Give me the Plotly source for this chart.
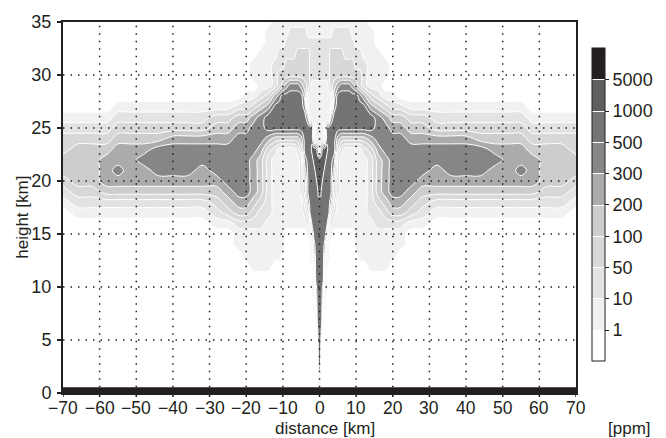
import plotly.graph_objects as go

# Distance from the plume axis (km) for the right half of the section;
# the section is mirrored about x = 0.
half_x = [0, 0.3, 0.6, 1, 1.5, 2, 2.5, 3, 4, 5, 6, 7, 8, 9, 10, 11, 12, 14, 16, 18,
          20, 22, 25, 28, 32, 36, 40, 44, 48, 52, 55, 58, 62, 66, 70]

# Concentration class at each grid node, one string per height from 35 km down to 0 km.
# Class 0 = below 1 ppm, 1 = 1-10, 2 = 10-50, 3 = 50-100, 4 = 100-200, 5 = 200-300,
# 6 = 300-500, 7 = 500-1000, 8 = 1000-5000, 9 = above 5000 ppm.
class_rows = [
    "11111111111111111000000000000000000",  # 35
    "11111111222221111100000000000000000",  # 34
    "22222222222222111100000000000000000",  # 33
    "22222223333222221110000000000000000",  # 32
    "22222223333333222111000000000000000",  # 31
    "22222223333333332111000000000000000",  # 30
    "11111123456665432110000000000000000",  # 29
    "11111111577777765321100000000000000",  # 28
    "11111111677777777543221111111110000",  # 27
    "11111115777777777765443322222221111",  # 26
    "11113777777777777766554433333332222",  # 25
    "11114777754444444566665555544443333",  # 24
    "36788877742111112356666666665554443",  # 23
    "88888777621111111245666666666555444",  # 22
    "88887777521111111245666656665565444",  # 21
    "88877777421111111245666555555555443",  # 20
    "88777777421111111245665444444444332",  # 19
    "77777776311111111234554322222222221",  # 18
    "77777774211111111223443211111111110",  # 17
    "77777742111111111122221100000000000",  # 16
    "77777521000000111111110000000000000",  # 15
    "77776310000000111111110000000000000",  # 14
    "77775210000000011111100000000000000",  # 13
    "77774100000000000111000000000000000",  # 12
    "77773100000000000000000000000000000",  # 11
    "77762100000000000000000000000000000",  # 10
    "77751000000000000000000000000000000",  # 9
    "77741000000000000000000000000000000",  # 8
    "77720000000000000000000000000000000",  # 7
    "77610000000000000000000000000000000",  # 6
    "77500000000000000000000000000000000",  # 5
    "77300000000000000000000000000000000",  # 4
    "77100000000000000000000000000000000",  # 3
    "64000000000000000000000000000000000",  # 2
    "42000000000000000000000000000000000",  # 1
    "20000000000000000000000000000000000",  # 0
]
heights = list(range(35, -1, -1))

level_labels = ["1", "10", "50", "100", "200", "300", "500", "1000", "5000"]
band_colors = ["#ffffff", "#f1f1f1", "#e3e3e3", "#d8d8d8", "#cdcdcd",
               "#ababab", "#868686", "#747474", "#5f5f5f", "#231f20"]

x_ticks = list(range(-70, 71, 10))
x_tick_labels = [str(v).replace("-", "\u2212") for v in x_ticks]
y_ticks = list(range(0, 36, 5))
x_range = [-70, 70]
y_range = [0, 35]
ground_top = 0.55  # km, surface layer drawn in black

for r in class_rows:
    if len(r) != len(half_x):
        raise ValueError("row length mismatch")

x_full = [-v for v in half_x[::-1][:-1]] + half_x
z_full = []
for row in class_rows:
    full = row[::-1][:-1] + row
    z_full.append([int(c) + 0.5 for c in full])

n = len(band_colors)
colorscale = []
for i, c in enumerate(band_colors):
    colorscale.append([i / n, c])
    colorscale.append([(i + 1) / n, c])

FONT = "Liberation Sans, Arial, sans-serif"
INK = "#231f20"
FS = 18

# page geometry (pixels)
W, H = 666, 438
M_L, M_R, M_T, M_B = 63, 89, 18, 45
plot_w = W - M_L - M_R
plot_h = H - M_T - M_B
tick_px = 4

# colour bar geometry
cb_x = 1.031
cb_y = 0.085
cb_len = 313
cb_thick = 13

fig = go.Figure()
fig.add_trace(go.Contour(
    x=x_full, y=heights, z=z_full,
    zmin=0, zmax=n, colorscale=colorscale,
    contours=dict(start=1, end=len(level_labels), size=1, coloring="fill"),
    line=dict(color="white", width=1, smoothing=1),
    hoverinfo="skip",
    colorbar=dict(
        x=cb_x, xanchor="left", xpad=0,
        y=cb_y, yanchor="bottom", ypad=0,
        len=cb_len, lenmode="pixels", thickness=cb_thick,
        outlinecolor=INK, outlinewidth=1,
        tickvals=list(range(1, len(level_labels) + 1)), ticktext=level_labels,
        ticks="outside", ticklen=4, tickcolor=INK,
        tickfont=dict(family=FONT, size=FS, color=INK),
    ),
))

shapes = []
# ground layer
shapes.append(dict(type="rect", xref="x", yref="y", x0=x_range[0], x1=x_range[1],
                   y0=y_range[0], y1=ground_top, fillcolor=INK,
                   line=dict(width=0), layer="above"))
grid_line = dict(color=INK, width=1.5, dash="1.5px,6px")
for xv in x_ticks[1:-1]:
    shapes.append(dict(type="line", xref="x", yref="y", x0=xv, x1=xv,
                       y0=ground_top, y1=y_range[1], line=grid_line, layer="above"))
for yv in y_ticks[1:-1]:
    shapes.append(dict(type="line", xref="x", yref="y", x0=x_range[0], x1=x_range[1],
                       y0=yv, y1=yv, line=grid_line, layer="above"))
# short tick marks below the distance axis
for xv in x_ticks:
    shapes.append(dict(type="line", xref="x", yref="paper", x0=xv, x1=xv,
                       y0=0, y1=-tick_px / plot_h,
                       line=dict(color=INK, width=1.5), layer="above"))

# thin dark separators between the colour bar classes
band_h = cb_len / n / plot_h
for k in range(1, n):
    yk = cb_y + k * band_h
    shapes.append(dict(type="line", xref="paper", yref="paper",
                       x0=cb_x, x1=cb_x + cb_thick / plot_w, y0=yk, y1=yk,
                       line=dict(color="#505050", width=1), layer="above"))

annotations = []
# distance tick labels, set close under the axis
for xv, lab in zip(x_ticks, x_tick_labels):
    annotations.append(dict(text=lab, xref="x", yref="paper", x=xv, y=-15 / plot_h,
                            xanchor="center", yanchor="middle", showarrow=False,
                            font=dict(family=FONT, size=17.5, color=INK)))
annotations += [
    dict(text="distance [km]", xref="paper", yref="paper", x=0.51, y=-35.5 / plot_h,
         xanchor="center", yanchor="middle", showarrow=False,
         font=dict(family=FONT, size=17, color=INK)),
    dict(text="height [km]", xref="paper", yref="paper", x=-0.078, y=0.475,
         textangle=-90, xanchor="center", yanchor="middle", showarrow=False,
         font=dict(family=FONT, size=17, color=INK)),
    dict(text="[ppm]", xref="paper", yref="paper", x=1.104, y=-35.5 / plot_h,
         xanchor="center", yanchor="middle", showarrow=False,
         font=dict(family=FONT, size=17, color=INK)),
]

axis_common = dict(showline=True, linewidth=2, linecolor=INK, mirror=True,
                   tickwidth=1.5, tickcolor=INK,
                   showgrid=False, zeroline=False)

fig.update_layout(
    width=W, height=H,
    margin=dict(l=M_L, r=M_R, t=M_T, b=M_B),
    paper_bgcolor="white", plot_bgcolor="white",
    xaxis=dict(range=x_range, tickvals=x_ticks, ticks="", showticklabels=False,
               **axis_common),
    yaxis=dict(range=y_range, tickvals=y_ticks, ticks="outside", ticklen=tick_px,
               ticklabelstandoff=2,
               tickfont=dict(family=FONT, size=FS, color=INK), **axis_common),
    shapes=shapes,
    annotations=annotations,
    showlegend=False,
)

fig.write_html("out.html")
